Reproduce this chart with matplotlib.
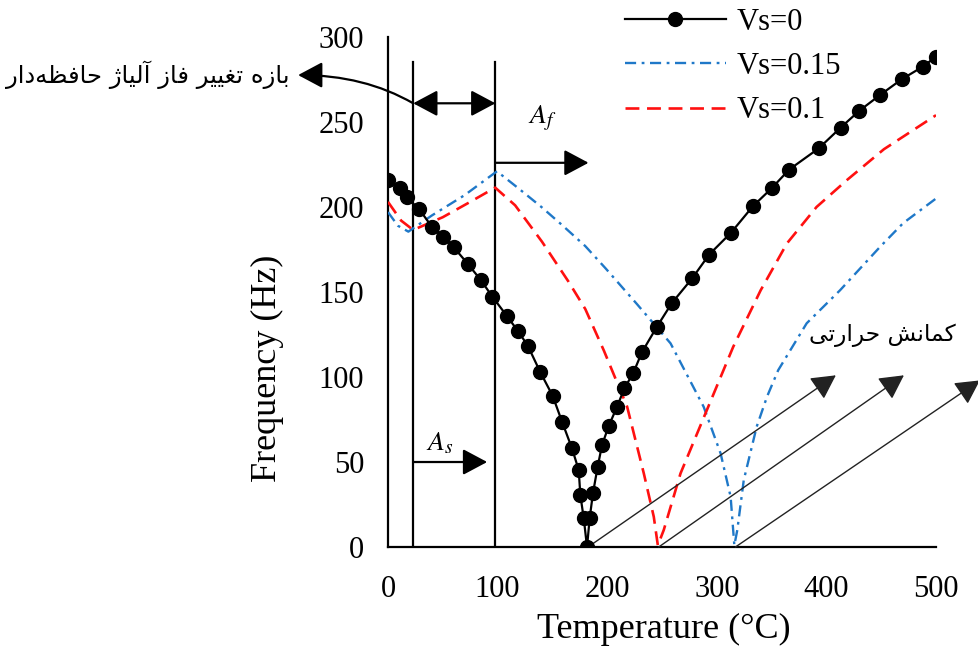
import numpy as np
import matplotlib
matplotlib.use("Agg")
import matplotlib.pyplot as plt

plt.rcParams['font.family'] = ['Liberation Serif', 'DejaVu Sans']
plt.rcParams['mathtext.fontset'] = 'stix'
plt.rcParams['lines.scale_dashes'] = False

# Vs=0 (black, markers)
t0 = [0, 11, 17, 28.6, 40, 50.5, 60, 72.9, 84.7, 95.3, 108.5, 118.6, 127.5, 139, 150.2,
      158.8, 167.9, 174, 175.5, 178.6, 181.6, 184, 187, 191.3, 195.3, 201.4, 209, 215.7,
      223.7, 231.7, 245.4, 259, 277.5, 293, 313, 333, 350, 366, 393, 413, 430, 449, 468.6,
      487.8, 500]
f0 = [216, 211, 205.7, 198.6, 188.4, 182.5, 176.3, 166.5, 157, 147.2, 135.9, 127, 118.5,
      102.8, 89, 73.7, 58, 45.3, 30.6, 16.9, 0, 16.9, 31.6, 47.2, 60, 71.2, 82.5, 93.4,
      102.2, 114.6, 129.6, 143.5, 158, 172, 184.9, 200.5, 211, 222, 234.5, 246.7, 256.6,
      265.9, 275.1, 282.5, 288.4]

# Vs=0.15 (blue dash-dot)
t15 = [0, 9, 18.6, 40, 70, 99.4, 119, 140, 158.8, 180, 198.4, 227, 257.8, 288, 303.5,
       312.6, 316, 318.7, 324.6, 336.4, 345.8, 356, 382, 412.4, 449, 470, 500]
f15 = [197, 189, 185.5, 195, 207, 221, 211, 200, 189.4, 177, 164, 143, 119.8, 82.5, 55,
       29.6, 1, 10, 39.4, 70.8, 88.4, 104, 131.6, 151, 176.6, 190.5, 205]

# Vs=0.1 (red dashed)
t10 = [0, 12, 23, 50, 75, 97.8, 116, 140.5, 164.8, 180, 197, 218.2, 233.4, 242.5, 246.2,
       251.6, 266.9, 288, 315, 340, 364, 391, 419, 452.5, 500]
f10 = [203, 192, 186.5, 194, 203, 211.4, 201, 179.6, 156, 140, 115.5, 82.5, 43.3, 17.8, 1,
       10, 43.3, 76, 117.8, 151, 178.6, 200, 216, 234, 254]

labels = ['Vs=0', 'Vs=0.15', 'Vs=0.1']
range_text = 'بازه تغییر فاز آلیاژ حافظه\u200cدار'
buckling_text = 'کمانش حرارتی'

FORMS = {
    'ا': ('\uFE8D', '\uFE8E', None, None),
    'آ': ('\uFE81', '\uFE82', None, None),
    'ب': ('\uFE8F', '\uFE90', '\uFE91', '\uFE92'),
    'ت': ('\uFE95', '\uFE96', '\uFE97', '\uFE98'),
    'ح': ('\uFEA1', '\uFEA2', '\uFEA3', '\uFEA4'),
    'د': ('\uFEA9', '\uFEAA', None, None),
    'ر': ('\uFEAD', '\uFEAE', None, None),
    'ز': ('\uFEAF', '\uFEB0', None, None),
    'ژ': ('\uFB8A', '\uFB8B', None, None),
    'ش': ('\uFEB5', '\uFEB6', '\uFEB7', '\uFEB8'),
    'ظ': ('\uFEC5', '\uFEC6', '\uFEC7', '\uFEC8'),
    'غ': ('\uFECD', '\uFECE', '\uFECF', '\uFED0'),
    'ف': ('\uFED1', '\uFED2', '\uFED3', '\uFED4'),
    'ل': ('\uFEDD', '\uFEDE', '\uFEDF', '\uFEE0'),
    'م': ('\uFEE1', '\uFEE2', '\uFEE3', '\uFEE4'),
    'ن': ('\uFEE5', '\uFEE6', '\uFEE7', '\uFEE8'),
    'ه': ('\uFEE9', '\uFEEA', '\uFEEB', '\uFEEC'),
    'ک': ('\uFB8E', '\uFB8F', '\uFB90', '\uFB91'),
    'ی': ('\uFBFC', '\uFBFD', '\uFBFE', '\uFBFF'),
}


def shape(s):
    # simple persian shaping + reverse to visual order
    out = []
    for i, c in enumerate(s):
        if c not in FORMS:
            if c != '\u200c':
                out.append(c)
            continue
        prev = s[i - 1] if i > 0 else ''
        nxt = s[i + 1] if i + 1 < len(s) else ''
        pj = prev in FORMS and FORMS[prev][2] is not None
        nj = nxt in FORMS and FORMS[c][2] is not None
        iso, fin, ini, med = FORMS[c]
        if pj and nj:
            out.append(med)
        elif pj:
            out.append(fin)
        elif nj:
            out.append(ini)
        else:
            out.append(iso)
    return ''.join(out[::-1])


fig = plt.figure(figsize=(9.79, 6.57), dpi=100)
ax = fig.add_axes([0.3963, 0.1674, 0.5598, 0.7763])

ax.plot(t0, f0, color='black', lw=1.6, marker='o', ms=10, label=labels[0], zorder=4)
ax.plot(t15, f15, color='#1f78c8', lw=1.7, dashes=(8, 4, 2, 4), label=labels[1], zorder=3)
ax.plot(t10, f10, color='#ff1010', lw=1.9, dashes=(10, 5.5), label=labels[2], zorder=3)

ax.set_xlim(0, 500)
ax.set_ylim(0, 300)
ax.set_xticks([0, 100, 200, 300, 400, 500])
ax.set_yticks([0, 50, 100, 150, 200, 250, 300])
ax.tick_params(length=0, labelsize=22)
ax.tick_params(axis='y', pad=17)
ax.tick_params(axis='x', pad=20)
for s in ['top', 'right']:
    ax.spines[s].set_visible(False)
for s in ['left', 'bottom']:
    ax.spines[s].set_linewidth(1.6)

ax.set_xlabel('Temperature (°C)', fontsize=26)
ax.set_ylabel('Frequency (Hz)', fontsize=26)
ax.xaxis.set_label_coords(0.503, -0.13)
ax.yaxis.set_label_coords(-0.19, 0.35)

# transformation range lines
ax.plot([23, 23], [0, 285], color='black', lw=1.6)
ax.plot([98, 98], [0, 285], color='black', lw=1.6)

head = '-|>,head_length=0.75,head_width=0.4'
ax.annotate('', xy=(183, 226), xytext=(98, 226), annotation_clip=False,
            arrowprops=dict(arrowstyle=head, mutation_scale=20, lw=1.6, color='black',
                            shrinkA=0, shrinkB=0))
ax.annotate('', xy=(90.5, 50), xytext=(23, 50), annotation_clip=False,
            arrowprops=dict(arrowstyle=head, mutation_scale=20, lw=1.6, color='black',
                            shrinkA=0, shrinkB=0))
ax.annotate('', xy=(98, 261), xytext=(23, 261), annotation_clip=False,
            arrowprops=dict(arrowstyle='<|-|>,head_length=0.75,head_width=0.4',
                            mutation_scale=20, lw=1.6, color='black', shrinkA=0, shrinkB=0))
ax.annotate('', xy=(-82, 277.6), xytext=(23, 261), annotation_clip=False,
            arrowprops=dict(arrowstyle=head, mutation_scale=20, lw=1.6, color='black',
                            shrinkA=0, shrinkB=0,
                            connectionstyle='angle3,angleA=-30,angleB=0'))

ax.text(140.5, 252, '$A_f$', fontsize=20, ha='center', va='center')
ax.text(47.5, 61, '$A_s$', fontsize=20, ha='center', va='center')

# thermal buckling arrows
for x0, x1, y1 in [(182.5, 408.6, 101), (247, 470.7, 101), (317, 540, 98)]:
    ax.annotate('', xy=(x1, y1), xytext=(x0, 0), annotation_clip=False,
                arrowprops=dict(arrowstyle=head, mutation_scale=20, lw=1.0,
                                color='#222222', shrinkA=0, shrinkB=0))

ax.text(-219, 278, shape(range_text), family='DejaVu Sans', fontsize=17.5,
        ha='center', va='center', clip_on=False)
ax.text(451, 124.7, shape(buckling_text), family='DejaVu Sans', fontsize=16.8,
        ha='center', va='center', clip_on=False)

fig.legend(loc='upper left', bbox_to_anchor=(0.635, 0.993), frameon=False, fontsize=22,
           handlelength=3.3, handletextpad=0.35, labelspacing=0.5, borderpad=0.1,
           borderaxespad=0)

fig.savefig('out.png', dpi=100)
